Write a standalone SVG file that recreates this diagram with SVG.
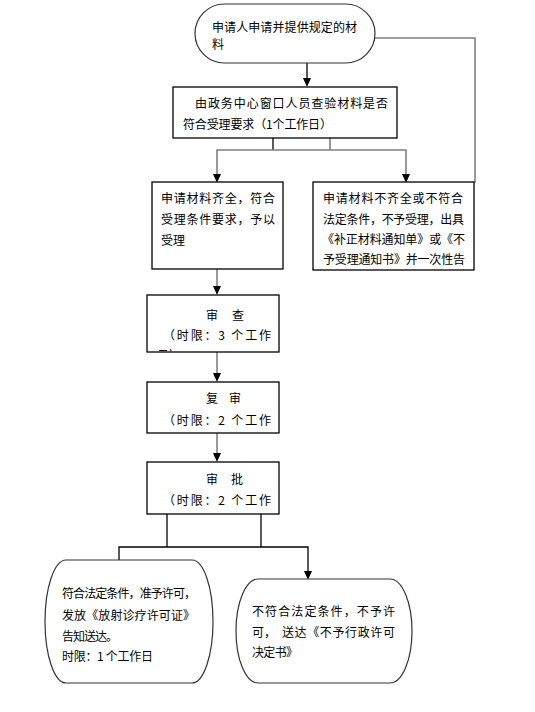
<svg xmlns="http://www.w3.org/2000/svg" width="535" height="712" viewBox="0 0 535 712">
<style>
text{font-family:"Noto Sans CJK SC","Noto Sans",sans-serif;font-size:12px;fill:#000}
.box{fill:#fff;stroke:#000;stroke-width:1.3}
.rbox{fill:#fff;stroke:#333;stroke-width:1.2}
.c{fill:none;stroke:#000;stroke-width:1.3}
.g{fill:none;stroke:#808080;stroke-width:1.6}
.ah{fill:#000}
</style>
<defs>
<clipPath id="clip1"><rect x="148" y="296" width="130" height="55"/></clipPath>
</defs>
<g id="connectors">
<line class="c" x1="307" y1="63" x2="307" y2="78"/>
<polygon class="ah" points="303,78 311,78 307,87"/>
<polyline class="g" points="375,38 475,38 475,183"/>
<line class="c" x1="273" y1="138" x2="273" y2="150"/>
<line class="g" x1="330" y1="138" x2="330" y2="150"/>
<polyline class="g" points="217,174 217,150 406,150 406,174"/>
<polygon class="ah" points="213,174 221,174 217,183"/>
<polygon class="ah" points="402,174 410,174 406,183"/>
<line class="g" x1="217" y1="269" x2="217" y2="286"/>
<polygon class="ah" points="213,286 221,286 217,295"/>
<line class="g" x1="217" y1="352" x2="217" y2="373"/>
<polygon class="ah" points="213,373 221,373 217,382"/>
<line class="g" x1="217" y1="433" x2="217" y2="453"/>
<polygon class="ah" points="213,453 221,453 217,462"/>
<line class="c" x1="167" y1="514" x2="167" y2="547"/>
<line class="c" x1="261" y1="514" x2="261" y2="547"/>
<polyline class="c" points="119,560 119,547 308,547 308,571"/>
<polygon class="ah" points="304,571 312,571 308,580"/>
</g>
<g id="n1">
<rect class="rbox" x="195" y="4" width="180" height="59" rx="29.5" ry="29.5"/>
<text x="212" y="32" textLength="145">申请人申请并提供规定的材</text>
<text x="212" y="49">料</text>
</g>
<g id="n2">
<rect class="box" x="173" y="87" width="224" height="51"/>
<text x="195" y="108" textLength="193">由政务中心窗口人员查验材料是否</text>
<text x="183" y="129" textLength="149">符合受理要求（1个工作日）</text>
</g>
<g id="n3">
<rect class="box" x="152" y="182" width="131" height="87"/>
<text x="161" y="203" textLength="114">申请材料齐全，符合</text>
<text x="161" y="224" textLength="114">受理条件要求，予以</text>
<text x="161" y="245">受理</text>
</g>
<g id="n4">
<rect class="box" x="313" y="182" width="161" height="88"/>
<text x="323" y="203" textLength="140">申请材料不齐全或不符合</text>
<text x="323" y="224" textLength="141">法定条件，不予受理，出具</text>
<text x="322" y="244" textLength="143">《补正材料通知单》或《不</text>
<text x="323" y="264" textLength="142">予受理通知书》并一次性告</text>
</g>
<g id="n5">
<rect class="box" x="147" y="295" width="132" height="57"/>
<text x="206" y="320">审</text>
<text x="232" y="320">查</text>
<text x="163" y="340" textLength="108">（时限：3 个工作</text>
<text x="157" y="359.5" clip-path="url(#clip1)">日）</text>
</g>
<g id="n6">
<rect class="box" x="147" y="382" width="132" height="51"/>
<text x="206" y="403">复</text>
<text x="229" y="403">审</text>
<text x="163" y="425" textLength="108">（时限：2 个工作</text>
</g>
<g id="n7">
<rect class="box" x="147" y="462" width="132" height="52"/>
<text x="206" y="484">审</text>
<text x="231" y="484">批</text>
<text x="163" y="505" textLength="108">（时限：2 个工作</text>
</g>
<g id="n8">
<path class="rbox" d="M66,560 H192 A21,61.5 0 0 1 192,683 H66 A21,61.5 0 0 1 66,560 Z"/>
<text x="62" y="598" textLength="134">符合法定条件，准予许可，</text>
<text x="62" y="620" textLength="133">发放《放射诊疗许可证》</text>
<text x="62" y="641" textLength="56">告知送达。</text>
<text x="62" y="661" textLength="91">时限：1 个工作日</text>
</g>
<g id="n9">
<path class="rbox" d="M258,579 H390 A22,52 0 0 1 390,683 H258 A22,52 0 0 1 258,579 Z"/>
<text x="252" y="616" textLength="143">不符合法定条件，不予许</text>
<text x="252" y="637">可，</text>
<text x="282" y="637" textLength="113">送达《不予行政许可</text>
<text x="252" y="657" textLength="46">决定书》</text>
</g>
</svg>
